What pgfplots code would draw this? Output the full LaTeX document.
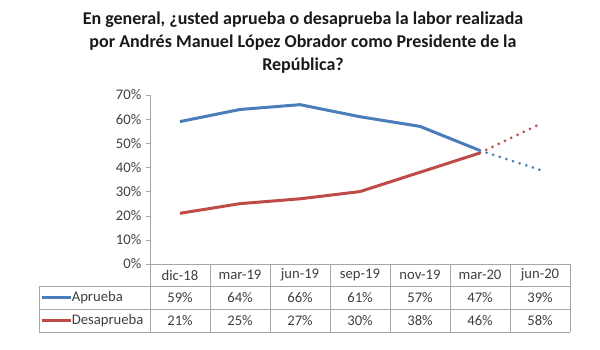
\documentclass[border=0pt]{standalone}
\usepackage{pgfplots}
\pgfplotsset{compat=1.18}
\usepackage{pgfplotstable}
\usepackage{fontspec}
\setmainfont{Carlito}
\definecolor{ablue}{HTML}{4A7EBB}
\definecolor{ared}{HTML}{BE4B48}
\definecolor{tgray}{HTML}{404040}
\definecolor{lgray}{HTML}{A6A6A6}

\pgfplotstableread{
x a d
0 59 21
1 64 25
2 66 27
3 61 30
4 57 38
5 47 46
6 39 58
}\datatab

\begin{document}
\begin{tikzpicture}
\path[use as bounding box] (0,0) rectangle (450pt,262.5pt);
\begin{scope}[x=0.75pt,y=-0.75pt,yshift=262.5pt]
\node[font=\bfseries\fontsize{13.5}{17.3}\selectfont, align=center, text=black!90] at (303,43) {En general, ¿usted aprueba o desaprueba la labor realizada\\por Andrés Manuel López Obrador como Presidente de la\\República?};
\end{scope}
\begin{axis}[
  at={(112.5pt,64.5pt)}, anchor=south west,
  scale only axis, width=315pt, height=126.75pt,
  xmin=-0.5, xmax=6.5, ymin=0, ymax=70,
  ytick={0,10,...,70},
  yticklabel={\pgfmathprintnumber{\tick}\%},
  xtick=\empty,
  axis x line*=bottom, axis y line*=left,
  axis line style={draw=lgray,-},
  tick align=outside, major tick length=3pt,
  ytick style={draw=lgray},
  yticklabel style={font=\fontsize{11}{13}\selectfont, text=tgray},
  /pgf/number format/assume math mode=true,
  clip=false,
]
\addplot[ablue, line width=2.25pt, restrict x to domain=0:5] table[x=x,y=a]{\datatab};
\addplot[ared, line width=2.25pt, restrict x to domain=0:5] table[x=x,y=d]{\datatab};
\addplot[ablue, line width=2.25pt, line cap=round, dash pattern=on 0pt off 5.2pt, restrict x to domain=5:6] table[x=x,y=a]{\datatab};
\addplot[ared, line width=2.25pt, line cap=round, dash pattern=on 0pt off 5.2pt, restrict x to domain=5:6] table[x=x,y=d]{\datatab};
\end{axis}
\begin{scope}[x=0.75pt,y=-0.75pt,yshift=262.5pt]
\draw[lgray, line width=0.6pt] (150,264) -- (570,264);
\draw[lgray, line width=0.6pt] (39,286) -- (570,286);
\draw[lgray, line width=0.6pt] (39,309) -- (570,309);
\draw[lgray, line width=0.6pt] (39,332) -- (570,332);
\draw[lgray, line width=0.6pt] (39,286) -- (39,332);
\foreach \i in {0,...,7} {\draw[lgray, line width=0.6pt] (150+60*\i,264) -- (150+60*\i,332);}
\foreach \c [count=\i from 0] in {dic-18,mar-19,jun-19,sep-19,nov-19,mar-20,jun-20}
  {\node[font=\fontsize{11}{13}\selectfont, text=tgray] at (180+60*\i,275) {\c};}
\foreach \v [count=\i from 0] in {59,64,66,61,57,47,39}
  {\node[font=\fontsize{11}{13}\selectfont, text=tgray] at (180+60*\i,297.5) {\v\%};}
\foreach \v [count=\i from 0] in {21,25,27,30,38,46,58}
  {\node[font=\fontsize{11}{13}\selectfont, text=tgray] at (180+60*\i,320.5) {\v\%};}
\draw[ablue, line width=2.25pt] (42,297.5) -- (71,297.5);
\draw[ared, line width=2.25pt] (42,320.5) -- (71,320.5);
\node[font=\fontsize{11}{13}\selectfont, text=tgray, anchor=west, inner sep=0pt] at (71.5,297.5) {Aprueba};
\node[font=\fontsize{11}{13}\selectfont, text=tgray, anchor=west, inner sep=0pt] at (71.5,320.5) {Desaprueba};
\end{scope}
\end{tikzpicture}
\end{document}
